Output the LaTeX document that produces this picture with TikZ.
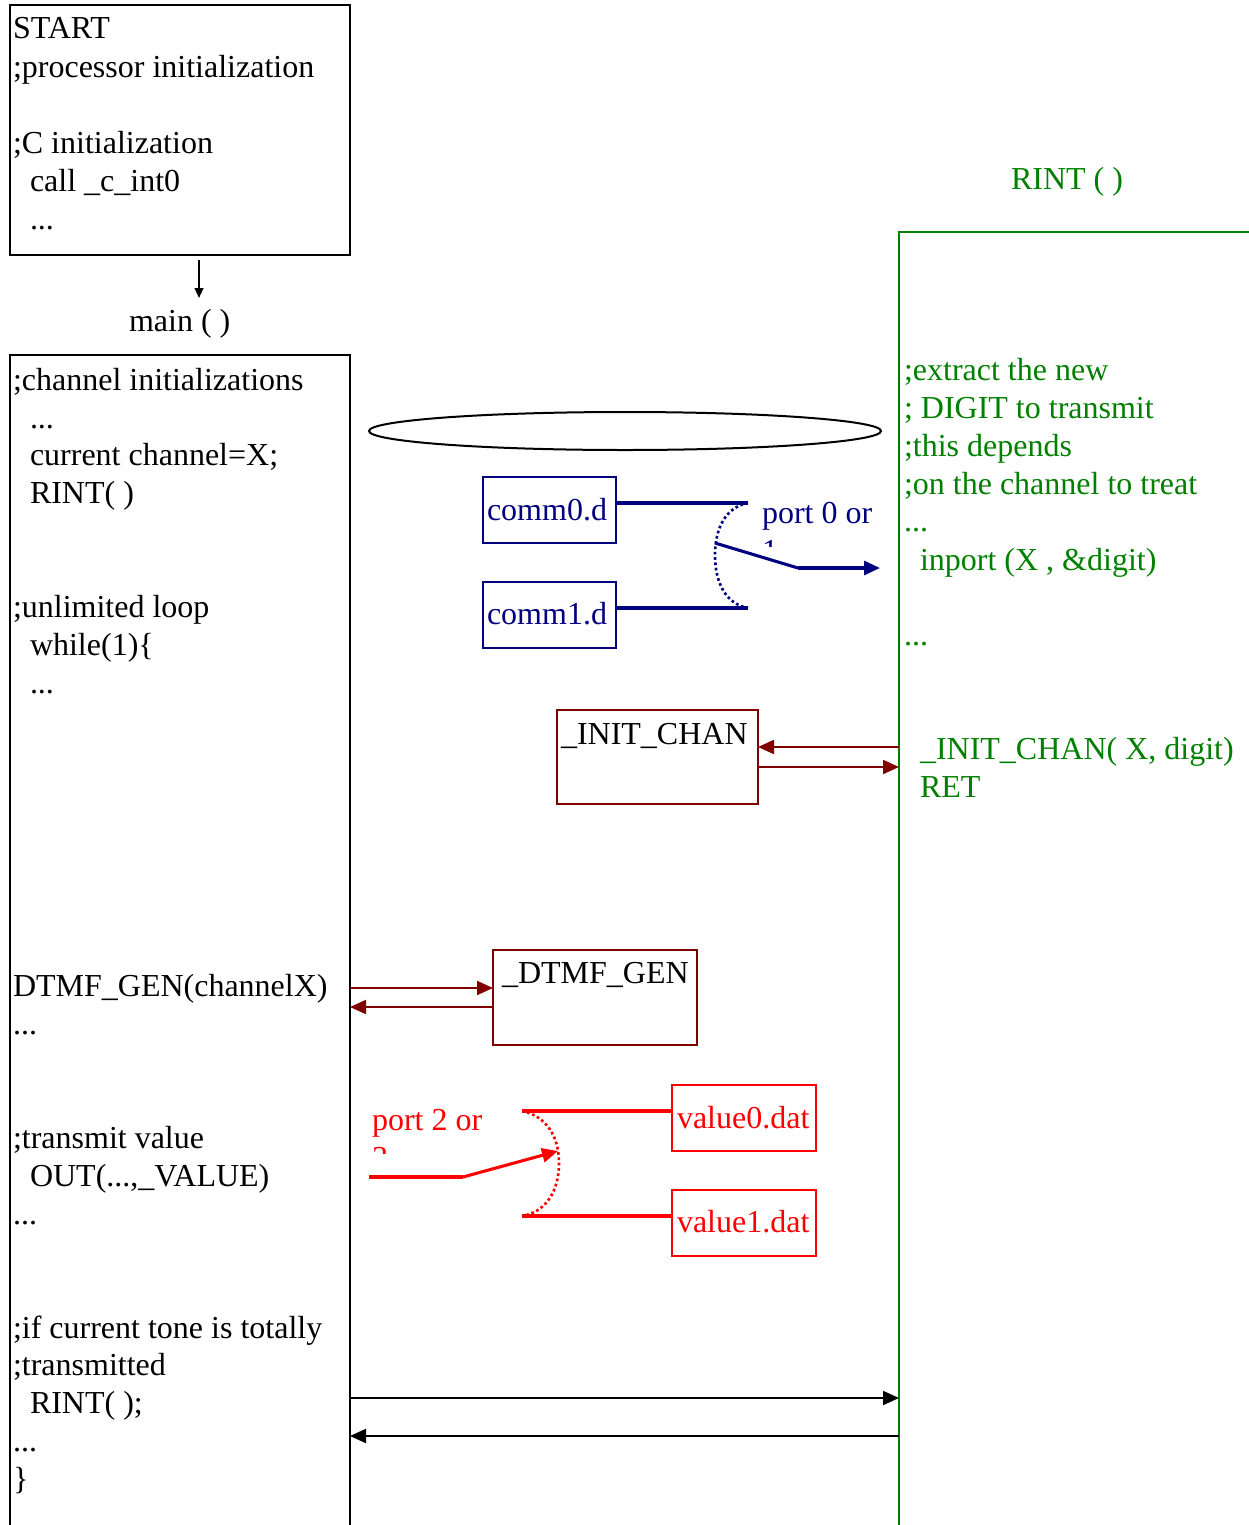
\documentclass[tikz,border=0pt]{standalone}
\usepackage{fontspec}
\setmainfont{Liberation Serif}
\usetikzlibrary{arrows.meta,fit,shapes.geometric}

\definecolor{navyc}{RGB}{0,0,128}
\definecolor{darkredc}{RGB}{128,0,0}
\definecolor{greenc}{RGB}{0,128,0}
\definecolor{redc}{RGB}{255,0,0}

\tikzset{
  txt/.style={anchor=base west,inner sep=0pt,outer sep=0pt,font=\fontsize{24}{28}\selectfont},
  frame/.style={draw,inner sep=0pt,outer sep=0pt,line width=1.5pt},
  tip/.style={-{Triangle[length=12pt,width=10.5pt]}},
  smalltip/.style={-{Triangle[length=7.5pt,width=6.5pt]}},
  link/.style={line width=1.5pt},
  swline/.style={line width=2.3pt},
  swarc/.style={line width=2pt,dotted},
}

\begin{document}
\begin{tikzpicture}[x=0.75pt,y=-0.75pt]
\clip (0,0) rectangle (1249,1525);
\fill[white] (0,0) rectangle (1249,1525);

% start-up block
\node[frame,fit={(10,5) (350,255)}] (startbox) {};
\node[txt] (s1) at (13,38) {START};
\node[txt] (s2) at (13,77) {;processor initialization};
\node[txt] (s3) at (13,153) {;C initialization};
\node[txt] (s4) at (30,191) {call \_c\_int0};
\node[txt] (s5) at (30,229) {...};

\coordinate (downtop) at (199,260);
\coordinate (downend) at (199,298);
\draw[link,smalltip] (downtop) -- (downend);
\node[txt] (mainlbl) at (129,331) {main ( )};

% main() body
\node[frame,fit={(10,355) (350,1560)}] (mainbox) {};
\node[txt] (m1) at (13,390) {;channel initializations};
\node[txt] (m2) at (30,428) {...};
\node[txt] (m3) at (30,465) {current channel=X;};
\node[txt] (m4) at (30,503) {RINT( )};
\node[txt] (m5) at (13,617) {;unlimited loop};
\node[txt] (m6) at (30,655) {while(1)\{};
\node[txt] (m7) at (30,693) {...};
\node[txt] (m8) at (13,996) {DTMF\_GEN(channelX)};
\node[txt] (m9) at (13,1034) {...};
\node[txt] (m10) at (13,1148) {;transmit value};
\node[txt] (m11) at (30,1186) {OUT(...,\_VALUE)};
\node[txt] (m12) at (13,1224) {...};
\node[txt] (m13) at (13,1338) {;if current tone is totally};
\node[txt] (m14) at (13,1375) {;transmitted};
\node[txt] (m15) at (30,1413) {RINT( );};
\node[txt] (m16) at (13,1451) {...};
\node[txt] (m17) at (13,1489) {\}};

% RINT() routine
\node[txt,text=greenc] (rintlbl) at (1011,189) {RINT ( )};
\node[draw=greenc,inner sep=0pt,outer sep=0pt,line width=1.5pt,fit={(899,232) (1300,1560)}] (rintbox) {};
\begin{scope}[every node/.append style={text=greenc}]
\node[txt] (r1) at (904,380) {;extract the new};
\node[txt] (r2) at (904,418) {; DIGIT to transmit};
\node[txt] (r3) at (904,456) {;this depends};
\node[txt] (r4) at (904,494) {;on the channel to treat};
\node[txt] (r5) at (904,531) {...};
\node[txt] (r6) at (920,570) {inport (X , \&digit)};
\node[txt] (r7) at (904,645) {...};
\node[txt] (r8) at (920,759) {\_INIT\_CHAN( X, digit)};
\node[txt] (r9) at (920,797) {RET};
\end{scope}

% ellipse
\node[draw,ellipse,inner sep=0pt,outer sep=0pt,line width=1.5pt,
      minimum width=512*0.75pt,minimum height=38*0.75pt] (ell) at (625,431) {};

% input channel files and switch
\node[draw=navyc,inner sep=0pt,outer sep=0pt,line width=1.5pt,fit={(483,477) (616,543)}] (comm0) {};
\node[draw=navyc,inner sep=0pt,outer sep=0pt,line width=1.5pt,fit={(483,582) (616,648)}] (comm1) {};
\node[txt,text=navyc] (c0t) at (487,520) {comm0.d};
\node[txt,text=navyc] (c1t) at (487,624) {comm1.d};
\coordinate (nA) at (748,503);
\coordinate (nB) at (748,608);
\coordinate (npiv) at (715,543);
\coordinate (nknee) at (798,568);
\coordinate (nout) at (880,568);
\draw[navyc,swline] (comm0.east |- nA) -- (nA);
\draw[navyc,swline] (comm1.east |- nB) -- (nB);
\draw[navyc,swarc] (nA) .. controls (726,507) and (715,528) .. (715,555)
                        .. controls (715,583) and (726,604) .. (nB);
\draw[navyc,swline] (npiv) -- (nknee);
\draw[navyc,swline,tip] (nknee) -- (nout);
\node[txt,text=navyc] (p0) at (762,523) {port 0 or};
\begin{scope}
\clip (755,535) rectangle (880,546);
\node[txt,text=navyc] (p0b) at (762,561) {1};
\end{scope}

% _INIT_CHAN
\node[draw=darkredc,inner sep=0pt,outer sep=0pt,line width=1.5pt,fit={(557,710) (758,804)}] (initchan) {};
\node[txt] (ict) at (561,744) {\_INIT\_CHAN};
\draw[darkredc,link,tip] (rintbox.west |- 0,747) -- (initchan.east |- 0,747);
\draw[darkredc,link,tip] (initchan.east |- 0,767) -- (rintbox.west |- 0,767);

% _DTMF_GEN
\node[draw=darkredc,inner sep=0pt,outer sep=0pt,line width=1.5pt,fit={(493,950) (697,1045)}] (dtmf) {};
\node[txt] (dgt) at (502,983) {\_DTMF\_GEN};
\draw[darkredc,link,tip] (mainbox.east |- 0,988) -- (dtmf.west |- 0,988);
\draw[darkredc,link,tip] (dtmf.west |- 0,1007) -- (mainbox.east |- 0,1007);

% output value files and switch
\node[draw=redc,inner sep=0pt,outer sep=0pt,line width=1.5pt,fit={(672,1085) (816,1151)}] (val0) {};
\node[draw=redc,inner sep=0pt,outer sep=0pt,line width=1.5pt,fit={(672,1190) (816,1256)}] (val1) {};
\node[txt,text=redc] (v0t) at (677,1128) {value0.dat};
\node[txt,text=redc] (v1t) at (677,1232) {value1.dat};
\coordinate (rA) at (522,1111);
\coordinate (rB) at (522,1216);
\coordinate (rin) at (369,1177);
\coordinate (rknee) at (463,1177);
\coordinate (rtip) at (558,1151);
\draw[redc,swline] (rA) -- (val0.west |- rA);
\draw[redc,swline] (rB) -- (val1.west |- rB);
\draw[redc,swarc] (rA) .. controls (546,1116) and (559,1136) .. (559,1163)
                       .. controls (559,1191) and (546,1212) .. (rB);
\draw[redc,swline] (rin) -- (rknee);
\draw[redc,swline,tip] (rknee) -- (rtip);
\node[txt,text=redc] (p2) at (372,1130) {port 2 or};
\begin{scope}
\clip (365,1140) rectangle (470,1153);
\node[txt,text=redc] (p2b) at (372,1168) {3};
\end{scope}

% call / return between main and RINT
\draw[link,tip] (mainbox.east |- 0,1398) -- (rintbox.west |- 0,1398);
\draw[link,tip] (rintbox.west |- 0,1436) -- (mainbox.east |- 0,1436);
\end{tikzpicture}
\end{document}
